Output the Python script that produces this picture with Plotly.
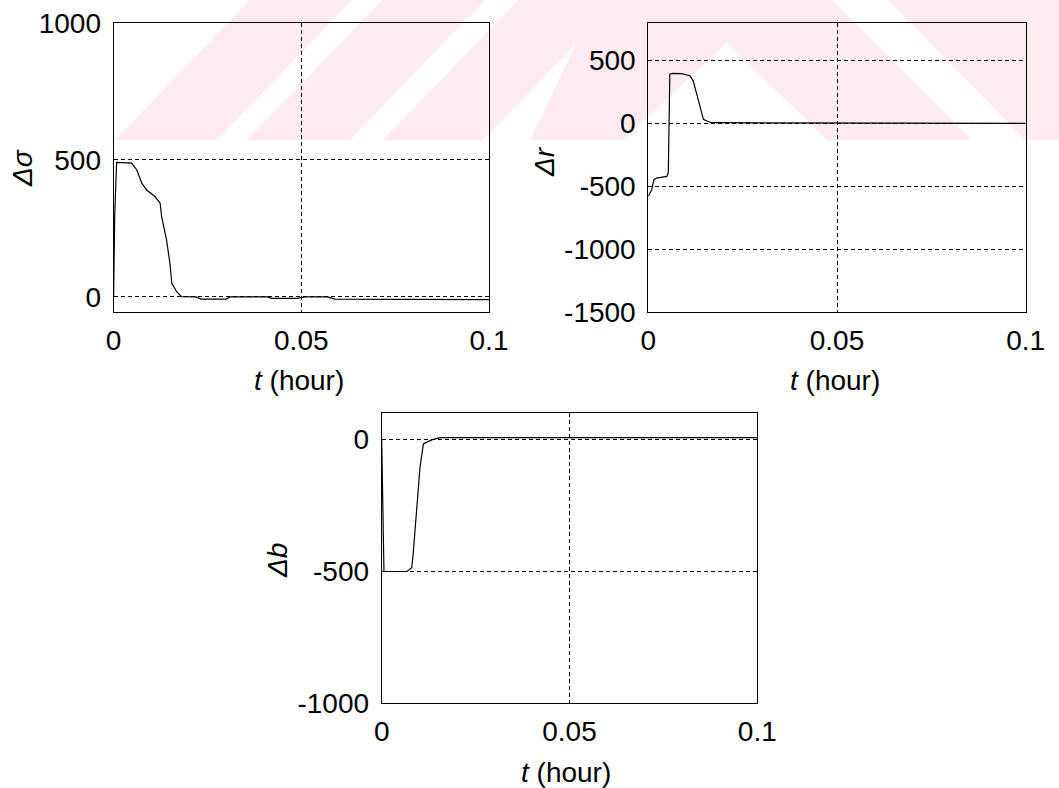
import plotly.graph_objects as go

W, H = 1059, 788

# Time axis (hour) and responses for the three deviations
t_sigma = [0, 0.0003, 0.0008, 0.0048, 0.0062, 0.0075, 0.0088, 0.011, 0.0124, 0.0128,
           0.0141, 0.015, 0.0155, 0.0168, 0.0181, 0.022, 0.0232, 0.030, 0.031, 0.041,
           0.042, 0.049, 0.051, 0.057, 0.059, 0.1]
d_sigma = [0, 300, 491, 488, 463, 415, 390, 366, 342, 293,
           208, 123, 50, 19, 1, 0, -8, -8, 0, 0,
           -5, -5, 0, 0, -8, -10]

t_r = [0, 0.0005, 0.0009, 0.0015, 0.0022, 0.0049, 0.0053, 0.0057, 0.0065, 0.0088,
       0.011, 0.0119, 0.0146, 0.0155, 0.0168, 0.1]
d_r = [-580, -555, -528, -448, -435, -422, -395, 390, 397, 395,
       378, 338, 32, 18, 5, 0]

t_b = [0, 0.0006, 0.0067, 0.008, 0.0084, 0.0093, 0.0102, 0.0111, 0.0133, 0.0155, 0.1]
d_b = [0, -500, -500, -486, -430, -267, -104, -16, -1, 8, 8]

x_ticks = [0, 0.05, 0.1]
x_ticktext = ["0", "0.05", "0.1"]
sigma_ticks = [0, 500, 1000]
r_ticks = [-1500, -1000, -500, 0, 500]
b_ticks = [-1000, -500, 0]

FONT = "Liberation Sans, Arial, sans-serif"
FS = 28


def px_x(p):
    return p / W


def px_y(p):
    return 1 - p / H


# plot boxes in pixel coordinates: (left, right, top, bottom)
boxes = {
    "1": (113.6, 489.0, 22.7, 312.0),
    "2": (648.3, 1025.7, 22.7, 312.0),
    "3": (381.7, 757.3, 413.3, 703.3),
}

fig = go.Figure()

fig.add_trace(go.Scatter(x=t_sigma, y=d_sigma, mode="lines",
                         line=dict(color="black", width=1.2), xaxis="x", yaxis="y"))
fig.add_trace(go.Scatter(x=t_r, y=d_r, mode="lines",
                         line=dict(color="black", width=1.2), xaxis="x2", yaxis="y2"))
fig.add_trace(go.Scatter(x=t_b, y=d_b, mode="lines",
                         line=dict(color="black", width=1.2), xaxis="x3", yaxis="y3"))

common_axis = dict(
    showline=True, mirror=True, linecolor="black", linewidth=1,
    showgrid=True, gridcolor="black", gridwidth=1, griddash="4px,3px",
    zeroline=False, ticks="", automargin=False,
    tickfont=dict(family=FONT, size=FS, color="black"),
)

yranges = {"1": [-55, 1000], "2": [-1500, 800], "3": [-1000, 100]}
yticks = {"1": sigma_ticks, "2": r_ticks, "3": b_ticks}

layout = dict(
    width=W, height=H, margin=dict(l=0, r=0, t=0, b=0, autoexpand=False),
    paper_bgcolor="white", plot_bgcolor="rgba(0,0,0,0)", showlegend=False,
)

for k, (l, r, t, b) in boxes.items():
    xa = "xaxis" if k == "1" else f"xaxis{k}"
    ya = "yaxis" if k == "1" else f"yaxis{k}"
    yref = "y" if k == "1" else f"y{k}"
    xref = "x" if k == "1" else f"x{k}"
    layout[xa] = dict(common_axis, domain=[px_x(l), px_x(r)], range=[0, 0.1],
                      tickvals=x_ticks, ticktext=x_ticktext, anchor=yref,
                      ticklabelstandoff=3)
    layout[ya] = dict(common_axis, domain=[px_y(b), px_y(t)], range=yranges[k],
                      tickvals=yticks[k], ticktext=[str(v) for v in yticks[k]],
                      anchor=xref, ticklabelstandoff=6)

fig.update_layout(**layout)

# axis titles
ann = []
for (txt, cx, cy) in [("<i>Δσ</i>", 23, 168), ("<i>Δr</i>", 544, 162), ("<i>Δb</i>", 277, 560)]:
    ann.append(dict(text=txt, x=px_x(cx), y=px_y(cy), xref="paper", yref="paper",
                    showarrow=False, textangle=-90, xanchor="center", yanchor="middle",
                    font=dict(family=FONT, size=FS, color="black")))
for (cx, cy) in [(299, 380), (835, 380), (566, 772)]:
    ann.append(dict(text="<i>t</i> (hour)", x=px_x(cx), y=px_y(cy), xref="paper", yref="paper",
                    showarrow=False, xanchor="center", yanchor="middle",
                    font=dict(family=FONT, size=FS, color="black")))
fig.update_layout(annotations=ann)

# faint diagonal background band across the top
pink = "#fdebef"
polys = [
    [(115, 140), (217, 140), (352, 0), (250, 0)],
    [(247, 140), (350, 140), (485, 0), (382, 0)],
    [(383, 140), (483, 140), (618, 0), (518, 0)],
    [(597, 0), (832, 0), (972, 140), (827, 140), (727, 43), (623, 140), (530, 140)],
    [(888, 0), (1059, 0), (1059, 140), (1025, 140)],
]
shapes = []
for poly in polys:
    path = "M " + " L ".join(f"{px_x(x):.5f},{px_y(y):.5f}" for x, y in poly) + " Z"
    shapes.append(dict(type="path", path=path, xref="paper", yref="paper",
                       fillcolor=pink, line=dict(width=0), layer="below"))
fig.update_layout(shapes=shapes)

fig.write_html("out.html")
